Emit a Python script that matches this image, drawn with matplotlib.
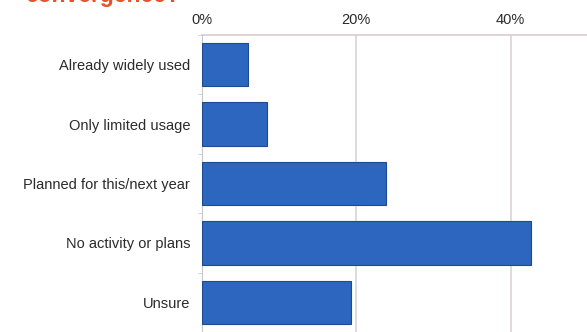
import matplotlib.pyplot as plt
import numpy as np

# Survey responses (share of respondents)
categories = ["Already widely used", "Only limited usage", "Planned for this/next year",
              "No activity or plans", "Unsure"]
shares = [6.0, 8.4, 23.8, 42.7, 19.3]
tick_values = [0, 20, 40]
tick_labels = ["0%", "20%", "40%"]

plt.rcParams['font.family'] = ['Liberation Sans', 'DejaVu Sans']

fig = plt.figure(figsize=(5.87, 3.32), dpi=100)
fig.patch.set_facecolor('white')

# partially cut-off heading above the chart
fig.text(0.042, 0.995, "convergence?", color='#e4532b', fontsize=16.5,
         fontweight='bold', ha='left', va='baseline')

ax = fig.add_axes([202 / 587, 0, 385 / 587, 1 - 35 / 332])

y = np.arange(len(categories))
ax.barh(y, shares, height=0.73, color='#2d66be', edgecolor='#1d4a90', linewidth=0.8, zorder=3)

ax.set_ylim(len(categories) - 0.5, -0.5)
ax.set_xlim(0, 49.9)
ax.set_yticks(y)
ax.set_yticklabels(categories, fontsize=10.5, color='#2b2b2b')
ax.set_yticks(np.arange(len(categories) + 1) - 0.5, minor=True)
ax.tick_params(axis='y', which='major', length=0, pad=8.5)
ax.tick_params(axis='y', which='minor', length=3, color='#cccccc', direction='out')

ax.xaxis.tick_top()
ax.set_xticks(tick_values)
ax.set_xticklabels(tick_labels, fontsize=10.5, color='#2b2b2b')
ax.tick_params(axis='x', length=0, pad=6)
ax.grid(axis='x', color='#ddd3d3', linewidth=1.2, zorder=0)

for side in ['right', 'bottom']:
    ax.spines[side].set_visible(False)
ax.spines['top'].set_color('#d8cccc')
ax.spines['top'].set_linewidth(1.2)
ax.spines['left'].set_color('#c8c8c8')

fig.savefig('out.png', dpi=100)
